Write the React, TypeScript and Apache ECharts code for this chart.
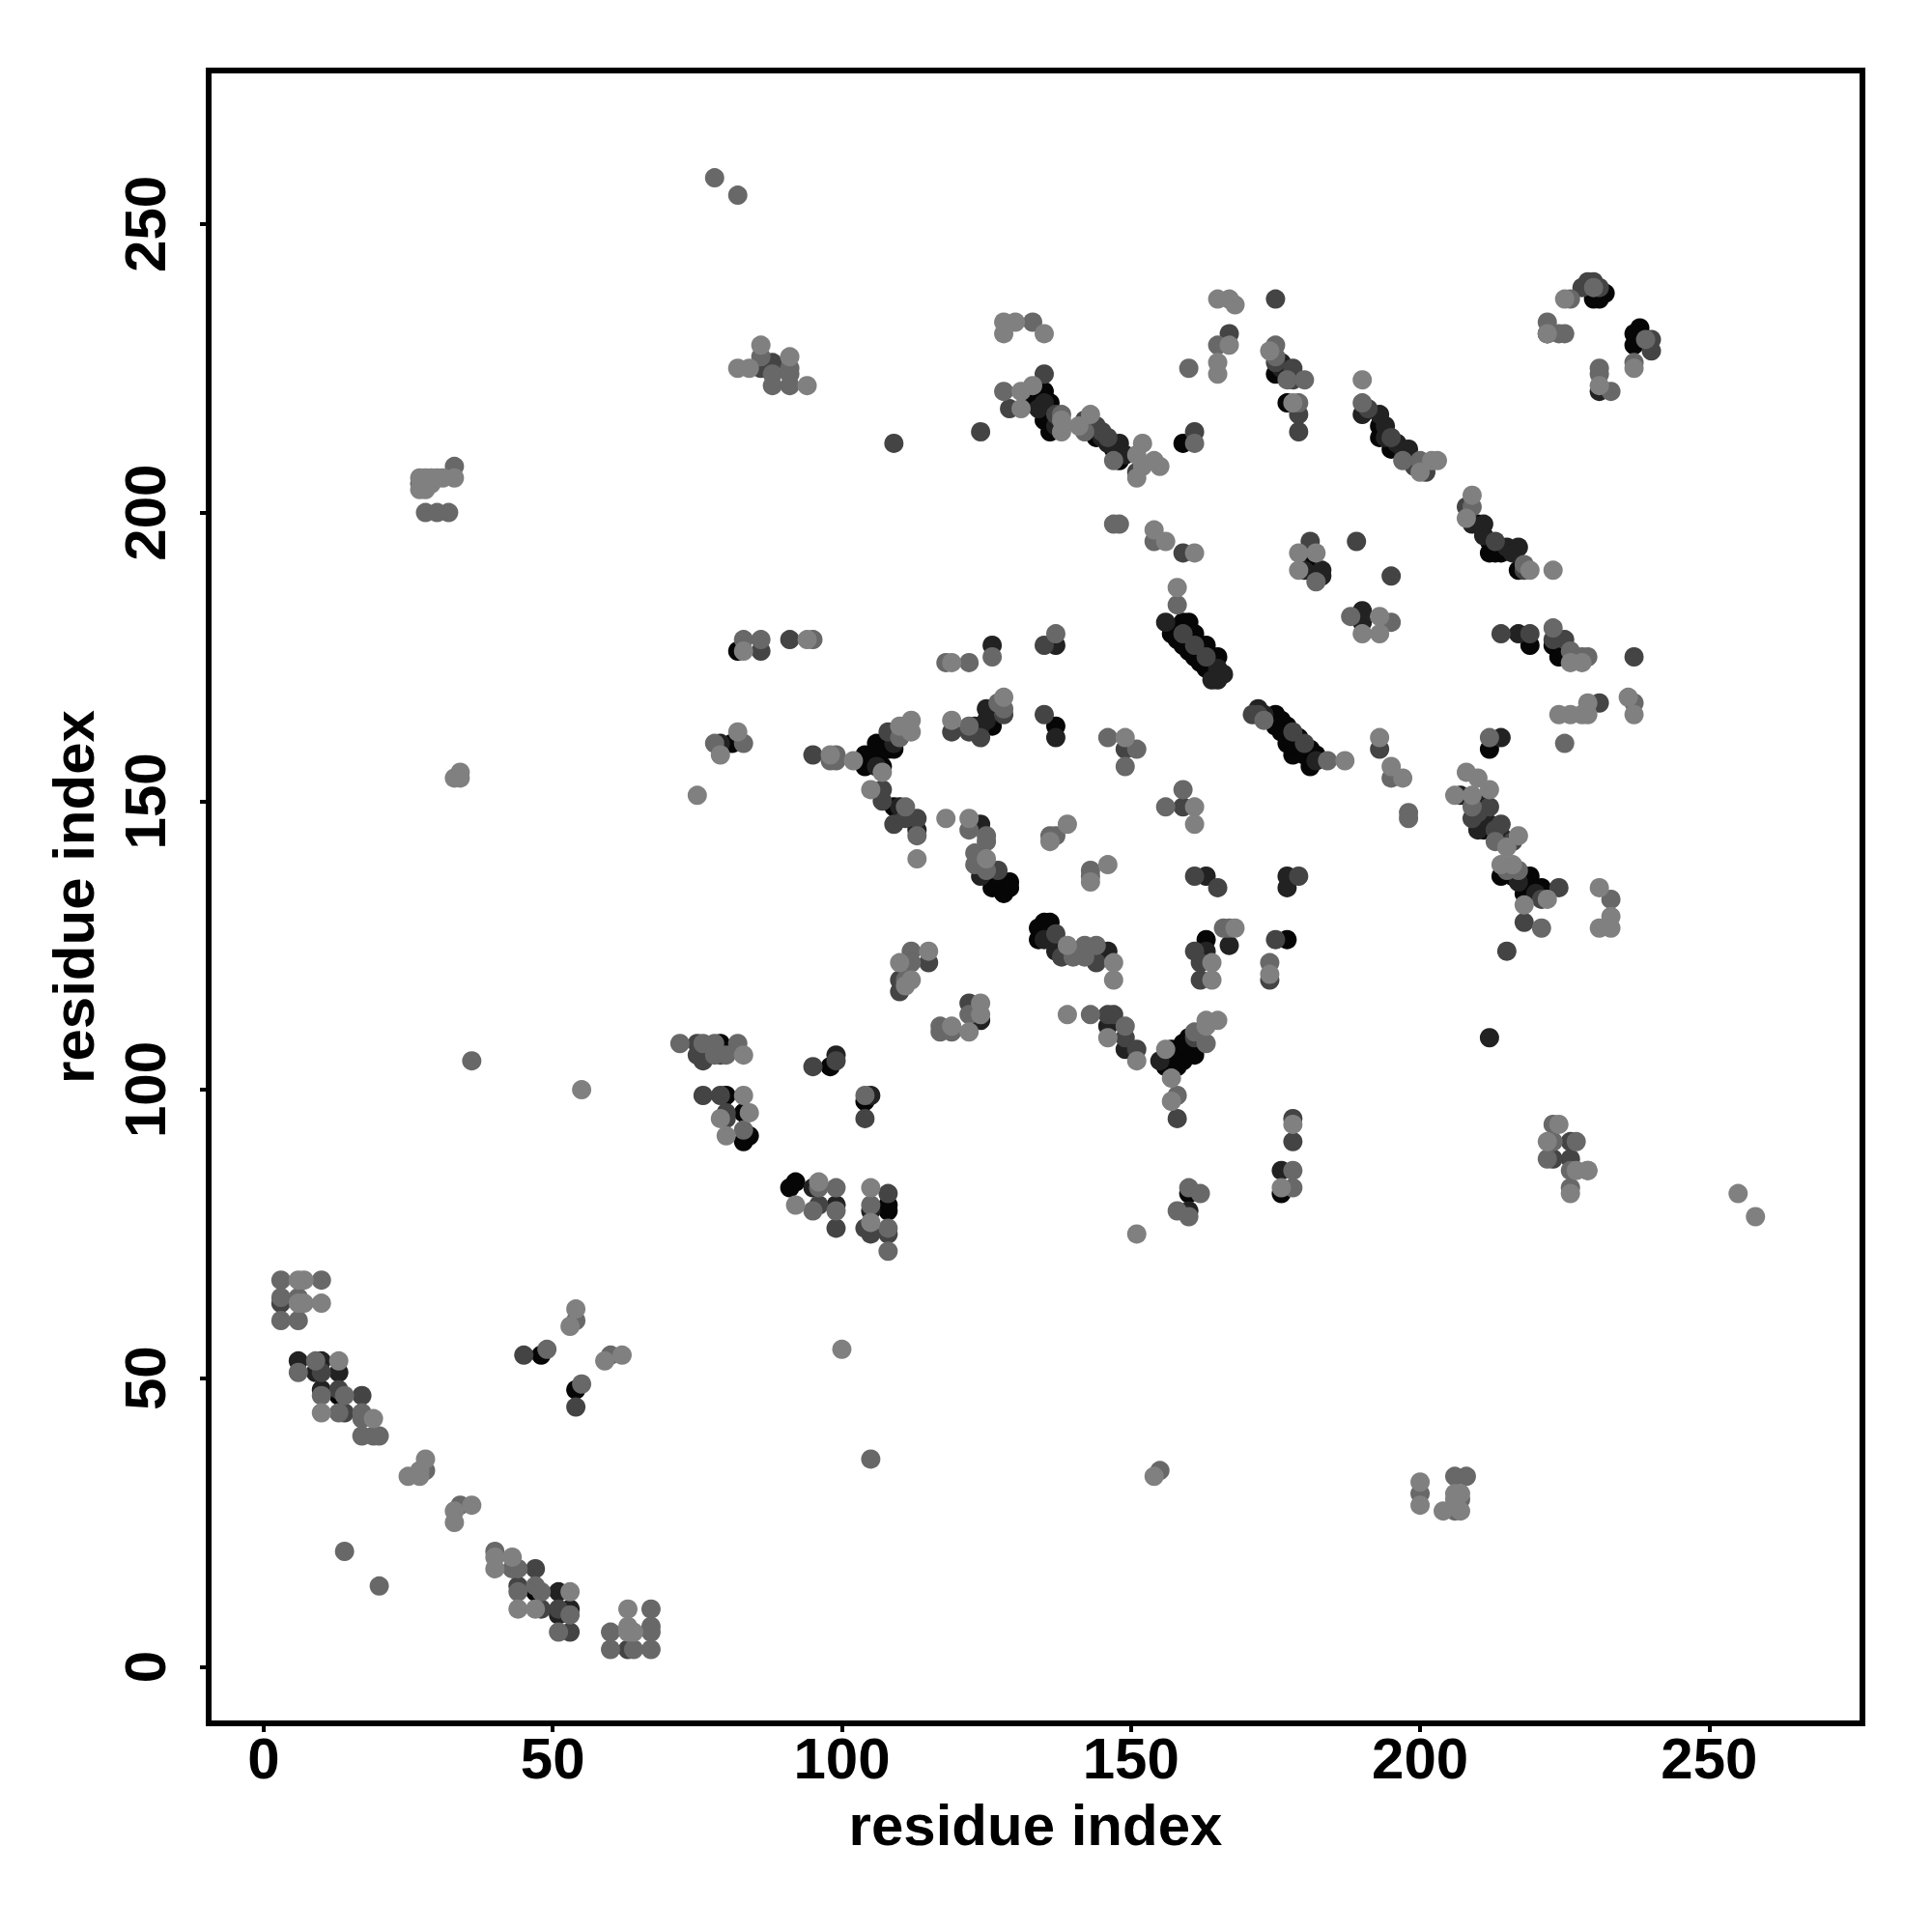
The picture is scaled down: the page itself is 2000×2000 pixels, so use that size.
import React, { useEffect, useRef } from "react";
import * as echarts from "echarts";

// [residue x, residue y, darkness tier]; tier: 1 lightest ... 5 black
const tierColors = ["", "#808080", "#686868", "#444444", "#222222", "#060606"];
const xTicks = [0, 50, 100, 150, 200, 250];
const axisTitle = "residue index";

const bottomLeft = [
[3,67,2],[6,67,1],[7,67,1],[10,67,2],[3,64,2],[3,63,3],[6,64,2],[6,63,1],[7,63,1],[10,63,1],[3,60,2],[6,60,2],
[6,53,4],[6,51,2],[9,53,2],[10,53,4],[9,51,4],[10,51,3],[13,53,1],[13,51,4],[10,48,4],[10,47,2],[10,44,1],[13,48,3],[13,47,5],[14,47,2],[13,44,2],[14,44,3],[17,47,3],[17,44,2],[17,43,2],[19,43,1],[17,40,2],[19,40,2],[20,40,2],
[25,33,1],[27,33,1],[27,34,1],[28,34,2],[28,36,1],[33,25,1],[33,27,1],[34,28,2],[36,28,1],[14,20,2],[20,14,2],
[40,20,2],[40,19,1],[40,17,1],[43,19,1],[43,17,2],[44,17,2],[47,17,3],[44,14,3],[44,13,2],[44,10,1],[47,14,2],[47,13,5],[48,13,2],[47,10,1],[48,10,3],
[51,13,4],[53,13,1],[51,10,3],[51,9,4],[53,10,4],[53,9,2],[51,6,2],[53,6,3],[60,6,2],[60,3,2],[63,10,1],[63,7,1],[63,6,1],[64,6,1],[63,3,3],[64,3,2],[67,10,2],[67,7,2],[67,6,2],[67,3,2],
[45,54,3],[48,54,5],[49,55,2],[54,62,1],[54,60,2],[53,59,1],[59,53,1],[60,54,2],[62,54,1],[54,48,5],[55,49,2],[54,45,3]
];
const scattered = [
[27,204,1],[27,205,2],[27,206,1],[28,206,1],[29,206,1],[30,206,1],[31,206,1],[29,205,1],[28,204,1],[33,208,2],[33,206,1],[28,200,2],[30,200,2],[32,200,2],
[33,154,1],[34,155,1],[34,154,1],[36,105,2],[55,100,1],[100,55,1],[105,36,2],[78,258,2],[82,255,2],[75,151,1],
[154,33,1],[155,34,2],[200,32,1],[200,30,2],[200,28,1],[204,27,1],[206,27,2],[207,27,1],[206,30,1],[207,30,1],[206,29,1],[207,29,2],[206,33,2],[208,33,2],
[82,225,1],[84,225,1],[86,229,1],[86,227,2],[86,225,3],[88,226,3],[88,224,2],[91,227,1],[91,225,2],[88,222,2],[91,222,2],[94,222,1],[91,224,2],
[255,82,1],[258,78,1],[212,109,4],[109,212,3],[124,214,3],
[223,94,2],[222,91,1],[222,88,2],[226,91,3],[226,88,3],[226,86,2],[226,83,2],[229,86,2],[224,94,1],[223,91,2],[223,88,3],[227,91,2],[227,86,1],[226,82,1],[229,86,1],
[151,75,1]
];
const middleLeft = [
[82,176,5],[83,176,1],[83,178,2],[86,178,2],[86,176,3],[91,178,3],[94,178,1],[95,178,2],[118,174,2],[119,174,1],[122,174,2],[126,177,4],[126,175,2],[135,177,3],[137,177,4],[137,179,2],
[82,162,1],[78,160,2],[79,160,4],[79,158,1],[81,160,5],[83,160,2],[95,158,3],[98,157,2],[98,158,1],[99,158,2],[99,157,2],[102,157,1],
[104,158,5],[104,157,5],[104,156,5],[106,160,5],[106,158,5],[106,156,4],[107,156,5],[107,155,1],[108,162,3],[108,159,5],[109,159,5],[109,160,4],[110,163,1],[110,161,2],[112,164,1],[112,162,1],[111,162,2],
[105,152,1],[107,152,3],[107,150,3],[109,149,5],[110,149,4],[109,146,3],[111,149,2],[111,147,3],[113,147,3],[113,145,4],[113,144,2],[113,140,1],
[118,147,1],[122,147,1],[124,146,4],[122,145,2],[125,143,2],[125,144,2],[123,141,2],[123,139,2],[125,140,1],[125,138,2],[124,137,4],[127,138,3],[126,135,5],[127,137,5],[129,136,5],[128,134,5],[129,135,5],
[139,146,1],[137,144,2],[136,143,1],[136,144,2],[146,139,1],[143,138,2],[143,136,1],[143,137,2],[159,152,2],[159,149,3],[156,149,2],[161,149,1],[161,146,1],
[161,137,3],[163,137,4],[165,135,3],[177,137,4],[179,137,3],[177,135,4],[135,165,3],[137,163,5],[137,161,4],[146,161,2],[149,161,1],[149,159,3],[151,159,2],[149,156,2],
[193,161,1],[193,159,3],[195,156,1],[195,154,2],[197,154,1],[198,148,2],[198,147,2],
[119,164,1],[119,162,3],[122,163,2],[122,162,3],[124,161,3],[123,163,4],[124,163,4],[125,166,4],[126,163,5],[125,164,4],[127,167,2],[128,168,1],[128,166,2],[128,165,3]
];
const middleLower = [
[135,129,5],[134,128,5],[136,129,5],[135,126,4],[134,126,5],[137,127,3],[137,124,4],[139,125,1],[138,123,3],[140,123,2],[142,125,2],[144,125,2],[146,124,4],[142,123,2],[144,122,3],[147,122,1],[147,119,1],
[161,124,3],[163,126,5],[163,124,4],[162,122,3],[164,122,1],[166,128,2],[167,125,4],[167,128,2],[168,128,1],[162,119,3],[164,119,1],
[175,126,3],[177,126,5],[174,122,2],[174,120,1],[174,119,3],
[112,124,2],[115,124,1],[115,122,3],[110,122,1],[112,122,2],[110,119,3],[112,119,1],[110,117,3],[111,119,2],[111,118,1],
[117,111,2],[119,111,1],[117,110,2],[119,110,2],[122,110,1],[122,115,3],[124,115,1],[122,113,2],[124,112,4],[124,113,1],
[139,113,1],[143,113,2],[146,113,3],[147,113,3],[146,111,4],[146,109,1],[149,111,2],[149,109,3],[149,107,4],[151,107,3],[151,105,1],[156,107,1],[156,105,5],[157,107,5],[158,104,5],[160,109,5],[160,107,5],[161,106,5],[161,109,3],[161,110,2],[163,112,1],[163,108,2],[165,112,1],[163,111,1],[157,105,5],[158,106,5],[159,105,5],[159,108,5],[155,105,4],[156,104,5],[157,104,5],
[157,102,1],[157,98,1],[158,99,2],[158,95,3],
[72,108,2],[75,108,3],[76,108,2],[75,106,3],[76,105,3],[78,108,2],[79,108,5],[82,108,2],[78,106,2],[79,106,3],[80,106,2],[83,106,1],
[76,99,3],[79,99,3],[80,99,5],[83,99,1],[80,96,3],[79,95,1],[80,95,3],[83,96,5],[84,96,1],[83,91,5],[84,92,5],[80,92,1],[83,93,2],
[95,104,3],[98,104,5],[99,105,3],[99,106,4],[105,99,4],[104,98,5],[104,99,2],[104,95,3],
[178,95,3],[178,94,1],[178,91,3],[176,86,4],[178,86,2],[176,83,1],[178,83,2],[176,82,5],[160,83,2],[160,82,5],[162,82,2],[158,79,2],[160,79,4],[160,78,2],
[91,83,5],[92,84,5],[92,80,1],[95,83,4],[96,84,1],[96,83,2],[95,79,2],[96,80,3],[99,83,2],[99,80,4],[99,79,2],[99,76,3],
[105,83,1],[108,82,3],[105,80,2],[108,79,5],[105,79,4],[108,80,5],[104,76,3],[105,75,3],[108,76,2],[108,75,3],[108,72,2],[105,77,1]
];
const upperBands = [
[128,233,1],[128,231,1],[130,233,1],[133,233,2],[135,231,1],[135,224,3],[128,221,2],[129,218,3],[131,218,1],[131,221,1],[133,222,1],[134,221,5],[135,221,5],[133,219,5],[135,219,4],[136,219,5],[135,216,5],[136,214,5],[138,217,2],[138,216,1],[138,214,1],[136,216,5],[134,218,4],[137,217,3],[137,215,4],
[159,212,5],[161,214,3],[161,212,2],[143,217,1],[141,215,1],[142,216,3],[142,214,2],[144,213,5],[145,214,3],[145,213,4],[147,211,5],[148,212,4],[152,212,1],[148,209,5],[147,209,2],[151,210,1],[151,207,3],[151,206,1],[152,208,1],[154,209,1],[155,208,1],[143,215,4],[146,212,4],[144,215,3],[146,213,3],[149,210,4],
[160,225,2],[165,237,1],[167,237,1],[168,236,1],[175,237,3],[167,231,3],[167,229,1],[165,229,2],[165,226,1],[165,224,1],
[175,229,2],[174,228,1],[175,227,2],[176,226,4],[178,225,3],[175,224,5],[177,223,2],[180,223,2],[177,219,5],[178,219,1],[179,219,2],[179,217,3],[179,214,3],[176,225,4],[177,225,4],[178,223,3],[175,226,3],
[190,223,1],[190,219,2],[190,217,4],[191,218,3],[193,217,4],[194,215,4],[193,213,5],[195,213,3],[195,211,5],[198,211,4],[197,209,2],[199,208,3],[200,209,2],[201,207,3],[200,207,1],[202,209,1],[203,209,1],[193,215,5],[194,213,4],[196,212,4],[197,211,4],[198,209,4],
[209,203,1],[208,201,3],[208,199,1],[209,201,2],[209,198,4],[211,198,4],[212,195,5],[213,195,3],[212,193,5],[215,194,4],[217,194,4],[217,190,5],[218,191,2],[219,190,1],[223,190,1],[210,198,5],[211,196,4],[213,193,5],[214,193,5],[216,193,4],[218,190,3],
[147,198,2],[148,198,2],[154,197,1],[154,195,2],[156,195,1],[159,193,3],[161,193,1],
[189,195,3],[195,189,3]
];
const centerBands = [
[158,187,1],[158,184,2],[156,181,4],[159,181,5],[160,181,5],[158,178,5],[161,179,5],[160,176,5],[163,177,5],[162,174,5],[165,175,5],[165,171,4],[166,172,4],[164,171,4],
[157,180,5],[157,179,5],[159,179,3],[159,177,5],[161,177,3],[161,175,5],[163,175,3],[163,173,5],[165,173,4],
[181,195,3],[179,193,1],[181,193,5],[182,193,1],[179,190,1],[180,190,4],[181,190,5],[183,190,4],[182,188,2],[183,189,4],
[190,183,4],[188,182,2],[190,181,4],[190,179,1],[193,182,1],[193,179,1],[195,181,2],
[214,179,3],[217,179,4],[219,179,3],[219,177,5],[223,180,2],[223,178,3],[225,178,3],[223,177,5],[224,175,5],[226,176,2],[226,174,1],[228,174,1],[228,175,2],[229,175,2],[237,175,3],
[224,165,1],[226,165,1],[229,167,1],[231,167,3],[228,165,1],[229,165,1],[236,168,1],[237,167,2],[237,165,1],[225,160,2],
[212,161,2],[214,161,4],[212,159,5],[184,157,2],[187,157,1],
[172,166,4],[171,165,3],[175,165,5],[177,163,5],[175,163,5],[179,161,5],[177,160,5],[181,159,5],[178,158,5],[182,157,4],[181,156,5],[172,165,3],[173,164,2],
[173,165,4],[174,164,5],[176,164,5],[176,162,5],[178,162,3],[178,160,5],[180,160,3],[180,158,5],[182,158,5]
];
const rightBands = [
[208,155,1],[210,154,1],[206,151,1],[207,151,4],[209,151,1],[212,152,1],[212,149,3],[209,149,2],[210,148,3],[209,147,3],[210,145,4],[214,146,3],[211,145,5],[213,143,2],[215,142,1],[217,144,1],[216,143,3],[210,150,4],[211,147,4],[212,146,4],[213,145,3],[214,144,4],[215,143,4],
[214,139,1],[216,139,1],[214,137,5],[216,137,5],[218,134,5],[219,137,5],[221,135,5],[224,135,3],[221,133,3],[222,133,1],[218,132,1],[218,129,3],[221,128,2],[215,124,3],[217,136,4],[218,136,5],[220,134,4],[215,138,2],[217,138,2],
[231,135,1],[233,133,2],[233,130,1],[231,128,1],[233,128,1]
];
const topRight = [
[225,237,1],[226,237,2],[229,240,3],[230,240,3],[228,239,3],[230,239,2],[231,239,3],[230,237,5],[231,237,5],[232,238,5],
[222,233,2],[222,231,5],[222,231,1],[224,231,2],[225,231,2],
[238,232,5],[237,231,5],[237,229,5],[240,230,3],[240,228,3],[237,226,2],[237,225,1],[239,230,2],
[231,225,2],[231,224,2],[231,222,1],[231,221,4],[233,221,2]
];

const clusters = [bottomLeft, scattered, middleLeft, middleLower, upperBands, centerBands, rightBands, topRight];

export default function App() {
  const ref = useRef<HTMLDivElement>(null);
  useEffect(() => {
    const chart = echarts.init(ref.current!, undefined, { renderer: "svg" });
    const points = clusters.flatMap((c) => [...c].sort((a, b) => b[2] - a[2]));
    const font = { fontFamily: "Liberation Sans", fontWeight: "bold" as const, fontSize: 60, color: "#000" };
    const axisBase = {
      type: "value" as const,
      splitLine: { show: false },
      axisLine: { show: false, onZero: false },
      axisTick: { show: true, length: 9, lineStyle: { color: "#000", width: 4 }, customValues: xTicks },
      name: axisTitle,
      nameLocation: "middle" as const,
      nameMoveOverlap: false,
      nameTextStyle: { ...font },
    };
    chart.setOption({
      animation: false,
      backgroundColor: "#fff",
      grid: { left: 216, top: 73, width: 1712, height: 1711, show: true, borderColor: "#000", borderWidth: 6, backgroundColor: "transparent" },
      xAxis: {
        ...axisBase, min: -9.5, max: 276.5, nameGap: 75,
        axisLabel: { ...font, margin: 6, customValues: xTicks },
      },
      yAxis: {
        ...axisBase, min: -9.8, max: 276.6, nameGap: 110,
        axisLabel: { ...font, rotate: 90, margin: 36, customValues: xTicks },
      },
      series: [{
        type: "scatter",
        symbol: "circle",
        symbolSize: 20,
        data: points.map((p) => ({ value: [p[0], p[1]], itemStyle: { color: tierColors[p[2]], opacity: 1 } })),
      }],
    });
    return () => chart.dispose();
  }, []);
  return <div ref={ref} style={{ position: "absolute", left: 0, top: 0, width: 2000, height: 2000 }} />;
}
